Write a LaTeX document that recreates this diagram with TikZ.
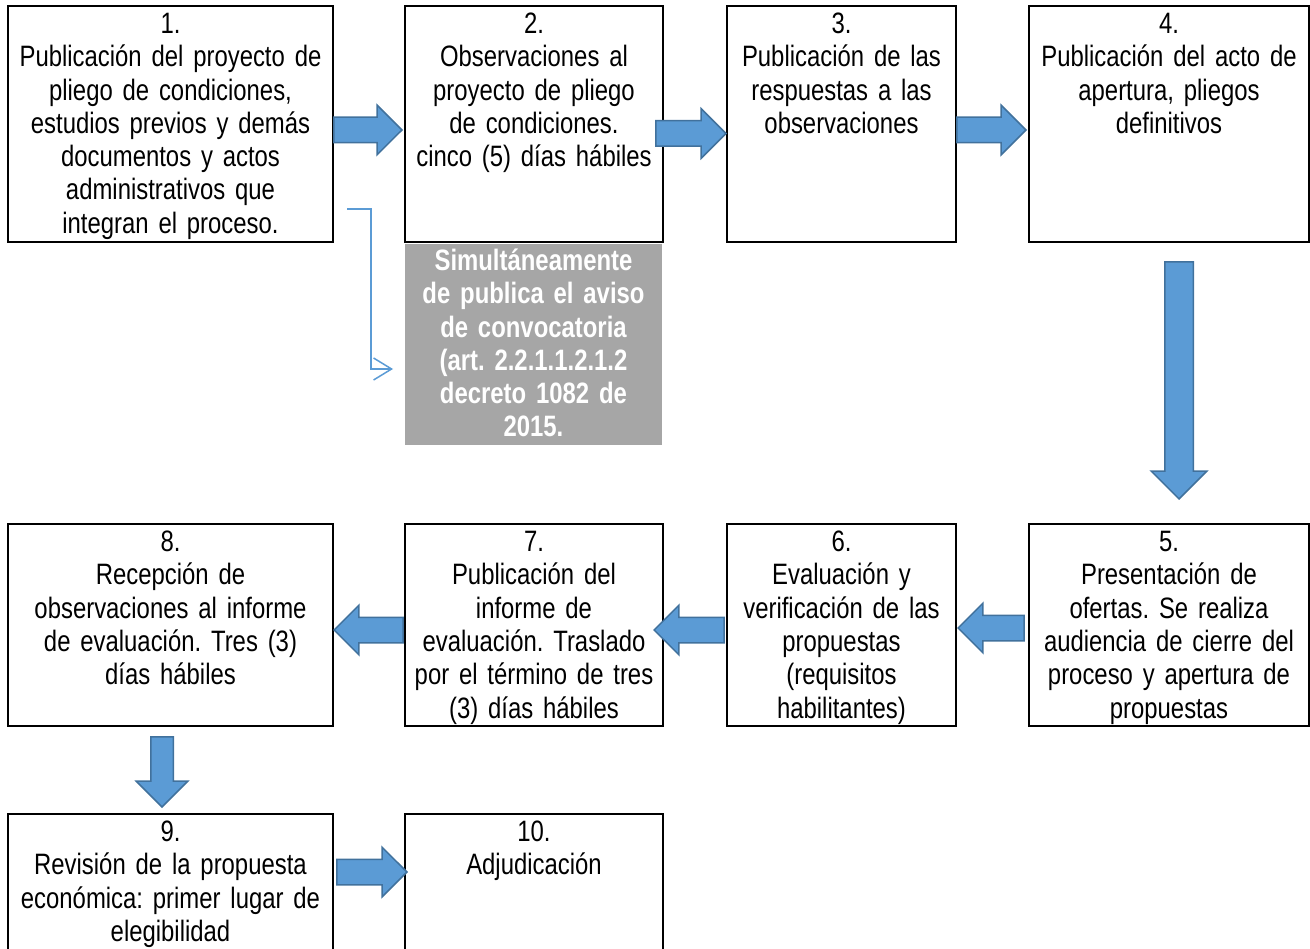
\documentclass[tikz,border=0pt]{standalone}
\usepackage{fontspec}
\setmainfont[FakeStretch=0.81, WordSpace=0.6]{Liberation Sans}
\usetikzlibrary{shapes.arrows,arrows.meta,calc}

\definecolor{azul}{HTML}{5B9BD5}
\definecolor{azulborde}{HTML}{41719C}
\definecolor{gris}{HTML}{A6A6A6}

\tikzset{
  caja/.style={draw, line width=2pt, anchor=north west, inner sep=0pt},
  texto/.style={anchor=base, align=center, inner sep=0pt, yshift=-28.5pt,
    font=\fontsize{29.5}{33.3}\selectfont},
  bloque/.style={single arrow, draw=azulborde, fill=azul, line width=1.5pt,
    inner xsep=0pt, inner ysep=12pt, minimum height=68pt,
    single arrow head extend=12pt, anchor=tip}
}

\begin{document}
\frenchspacing
\begin{tikzpicture}[x=1pt, y=-1pt]
\useasboundingbox (0,0) rectangle (1310,949);

% Draw boxes
\node[caja, minimum width=325pt, minimum height=236pt] (b1) at (7,5) {};
\node[caja, minimum width=258pt, minimum height=236pt] (b2) at (404,5) {};
\node[caja, minimum width=229pt, minimum height=236pt] (b3) at (726,5) {};
\node[caja, minimum width=280pt, minimum height=236pt] (b4) at (1028,5) {};
\node[caja, draw=none, fill=gris, minimum width=257pt, minimum height=201pt] (gr) at (404,243) {};
\node[caja, minimum width=280pt, minimum height=202pt] (b5) at (1028,523) {};
\node[caja, minimum width=229pt, minimum height=202pt] (b6) at (726,523) {};
\node[caja, minimum width=258pt, minimum height=202pt] (b7) at (404,523) {};
\node[caja, minimum width=325pt, minimum height=202pt] (b8) at (7,523) {};
\node[caja, minimum width=325pt, minimum height=140pt] (b9) at (7,813) {};
\node[caja, minimum width=258pt, minimum height=140pt] (b10) at (404,813) {};

% Add texts
\node[texto, text width=325pt] (t1) at (b1.north) {1.\\Publicación del proyecto de\\pliego de condiciones,\\estudios previos y demás\\documentos y actos\\administrativos que\\integran el proceso.};
\node[texto, text width=258pt] (t2) at (b2.north) {2.\\Observaciones al\\proyecto de pliego\\de condiciones.\\cinco (5) días hábiles};
\node[texto, text width=229pt] (t3) at (b3.north) {3.\\Publicación de las\\respuestas a las\\observaciones};
\node[texto, text width=280pt] (t4) at (b4.north) {4.\\Publicación del acto de\\apertura, pliegos\\definitivos};
\node[texto, text width=257pt, text=white, font=\fontsize{29.5}{33.3}\selectfont\bfseries, yshift=1pt] (tg) at (gr.north) {Simultáneamente\\de publica el aviso\\de convocatoria\\(art. 2.2.1.1.2.1.2\\decreto 1082 de\\2015.};
\node[texto, text width=280pt] (t5) at (b5.north) {5.\\Presentación de\\ofertas. Se realiza\\audiencia de cierre del\\proceso y apertura de\\propuestas};
\node[texto, text width=229pt] (t6) at (b6.north) {6.\\Evaluación y\\verificación de las\\propuestas\\(requisitos\\habilitantes)};
\node[texto, text width=258pt] (t7) at (b7.north) {7.\\Publicación del\\informe de\\evaluación. Traslado\\por el término de tres\\(3) días hábiles};
\node[texto, text width=325pt] (t8) at (b8.north) {8.\\Recepción de\\observaciones al informe\\de evaluación. Tres (3)\\días hábiles};
\node[texto, text width=325pt] (t9) at (b9.north) {9.\\Revisión de la propuesta\\económica: primer lugar de\\elegibilidad};
\node[texto, text width=258pt] (t10) at (b10.north) {10.\\Adjudicación};

% Draw block arrows
\node[bloque] (f12) at (403,130) {};
\node[bloque, minimum height=70pt] (f23) at (727,133.5) {};
\node[bloque, minimum height=69pt] (f34) at (1027,130) {};
\node[bloque, rotate=-90, minimum height=237pt, inner ysep=13.5pt, single arrow head extend=13.5pt] (f45) at (1179,500) {};
\node[bloque, rotate=180, minimum height=66pt] (f56) at (957,628) {};
\node[bloque, rotate=180, minimum height=70pt] (f67) at (653,630) {};
\node[bloque, rotate=180, minimum height=69pt] (f78) at (333,630) {};
\node[bloque, rotate=-90, minimum height=70pt, inner ysep=10.5pt, single arrow head extend=14.5pt] (f89) at (162,808) {};
\node[bloque, minimum height=70pt] (f910) at (408,872) {};

% Thin connector to the notice
\coordinate (c1) at ($(b1.south east)+(13,-34)$);
\coordinate (c2) at ($(gr.west)+(-11,24.5)$);
\draw[azul, line width=1.5pt, -{Straight Barb[length=18pt,width=22pt]}] (c1) -- ++(24,0) |- (c2);
\end{tikzpicture}
\end{document}
